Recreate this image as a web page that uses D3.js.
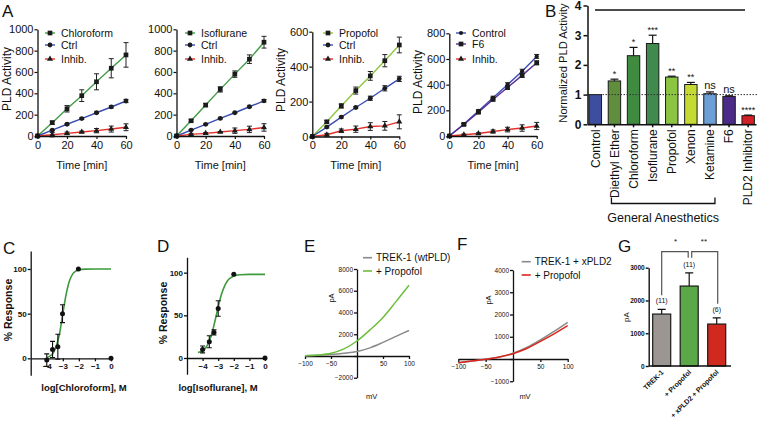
<!DOCTYPE html>
<html><head><meta charset="utf-8">
<script src="https://cdn.jsdelivr.net/npm/d3@7"></script>
<style>body{margin:0;background:#fff}svg{display:block}</style>
</head><body><svg id="c" width="757" height="422"></svg>
<script>
// ---------------- DATA ----------------
const timeMin = [0,10,20,30,40,50,60];
// A1 chloroform
const chloroform = [0,125,255,378,508,635,760];
const chloroformErr = [0,15,30,55,75,90,115];
const ctrlA1 = [0,55,110,163,218,272,328];
const ctrlA1Err = [0,5,8,8,8,10,15];
const inhibA1 = [0,12,25,38,50,65,82];
const inhibA1Err = [0,20,12,8,20,28,32];
// A2 isoflurane
const isoflurane = [0,143,290,437,580,720,879];
const isofluraneErr = [0,10,15,25,30,40,55];
const ctrlA2 = [0,56,109,165,218,274,330];
const ctrlA2Err = [0,5,5,5,5,8,12];
const inhibA2 = [0,15,25,37,50,62,80];
const inhibA2Err = [0,10,8,5,25,30,35];
// A3 propofol
const propofol = [0,84,175,263,347,434,524];
const propofolErr = [0,8,12,20,25,35,45];
const ctrlA3 = [0,54,111,166,219,276,330];
const ctrlA3Err = [0,5,5,5,12,15,15];
const inhibA3 = [0,10,33,42,57,61,84];
const inhibA3Err = [0,8,10,18,22,25,40];
// A4 F6
const controlA4 = [0,93,195,298,400,505,620];
const controlA4Err = [0,8,10,12,15,15,15];
const f6 = [0,90,185,285,378,472,570];
const f6Err = [0,8,10,12,15,15,15];
const inhibA4 = [0,10,20,35,50,62,78];
const inhibA4Err = [0,5,5,12,18,25,28];

// B
const bCats = ["Control","Diethyl Ether","Chloroform","Isoflurane","Propofol","Xenon","Ketamine","F6","PLD2 Inhibitor"];
const bVals = [1.0,1.46,2.31,2.72,1.59,1.34,1.03,0.94,0.29];
const bErr = [0,0.06,0.28,0.28,0.03,0.07,0.06,0.02,0.02];
const bSig = ["","*","*","***","**","**","ns","ns","****"];
const bColors = ["#3d4e9e","#5f8f3c","#3f8b3f","#3f8a4c","#8cc542","#c6da36","#6c9fd6","#4b2a88","#d41f26"];
const bTicks = [0,1,2,3,4];

// C
const cX = [-4.0,-3.64,-3.31,-3.02,-2.03,0];
const cY = [-2,10,13,50,100,0];
const cErr = [7,9,14,10,0,0];
const cFitX = [-4.0,-3.8,-3.6,-3.4,-3.2,-3.0,-2.8,-2.6,-2.4,-2.2,-2.0,-1.6,-1.0,0];
const cFitY = [1,2.5,6,14,28,50,71,86,94,97.5,99,99.8,100,100];
// D
const dX = [-4.0,-3.57,-3.27,-3.0,-2.0,0];
const dY = [10,19,30,58,98,0];
const dErr = [4,7,3,9,0,0];
const dFitX = [-4.3,-4.0,-3.8,-3.6,-3.4,-3.2,-3.0,-2.8,-2.6,-2.4,-2.2,-2.0,-1.6,-1.0,0];
const dFitY = [6.5,8.3,12,18.5,29,44,60,74,84,90.5,94,96.2,97.5,98,98];
const doseTicks = [-4,-3,-2,-1,0];
const respTicks = [0,50,100];

// E
const mV = [-100,-75,-50,-25,0,25,50,75,100];
const eTrek = [30,60,130,250,420,750,1250,1800,2350];
const ePropofol = [30,90,250,650,1380,2400,3550,5000,6500];
const eYTicks = [-2000,2000,4000,6000,8000];
// F
const fTrek = [-170,-90,-10,90,255,520,860,1240,1650];
const fPropofol = [-170,-92,-14,85,240,470,790,1130,1500];
const fYTicks = [-1000,1000,2000,3000,4000];
const mVTicks = [-100,-50,50,100];

// G
const gCats = ["TREK-1","+ Propofol","+ xPLD2 + Propofol"];
const gVals = [1585,2440,1280];
const gErr = [145,405,190];
const gN = ["(11)","(11)","(6)"];
const gColors = ["#9b9691","#5aa847","#cf2a1d"];
const gTicks = [0,1000,2000,3000];

// ---------------- DRAW ----------------
const FONT = '"Liberation Sans", Arial, Helvetica, sans-serif';
const svg = d3.select("#c");
const fmtD = d3.format("d");

function txt(x,y,s,o={}){
  const t = svg.append("text").attr("x",x).attr("y",y).text(s)
    .attr("font-family",FONT).attr("font-size",o.fs||11).attr("fill",o.fill||"#111")
    .attr("text-anchor",o.anchor||"start").attr("font-weight",o.bold?"bold":"normal");
  if(o.rot) t.attr("transform",`rotate(${o.rot},${x},${y})`);
  return t;
}
function styleAxis(g,fs,bold,sw){
  g.selectAll("path.domain").attr("stroke","#111").attr("stroke-width",sw||1.3);
  g.selectAll(".tick line").attr("stroke","#111").attr("stroke-width",sw||1.2);
  g.selectAll(".tick text").attr("font-family",FONT).attr("font-size",fs).attr("fill","#111")
    .attr("font-weight",bold?"bold":"normal");
}
const symMap = {square:[d3.symbolSquare,22],circle:[d3.symbolCircle,18],triangle:[d3.symbolTriangle,16],diamond:[d3.symbolCircle,14]};

function timePanel(p){
  const x = d3.scaleLinear().domain([0,60]).range(p.xr);
  const y = d3.scaleLinear().domain([0,p.ymax]).range(p.yr);
  const g = svg.append("g");
  const ser = p.series.map(s=>({...s,pts:timeMin.map((t,i)=>({t,v:s.v[i],e:s.e[i]}))}));
  ser.forEach(s=>{
    g.append("path").datum(s.pts).attr("fill","none").attr("stroke",s.color).attr("stroke-width",1.4)
      .attr("d",d3.line().x(d=>x(d.t)).y(d=>y(d.v)));
  });
  ser.forEach(s=>{
    const eb = g.append("g").attr("stroke","#222").attr("stroke-width",1);
    s.pts.filter(d=>d.e>0).forEach(d=>{
      const cx=x(d.t), yt=y(d.v+d.e), yb=y(d.v-d.e);
      eb.append("line").attr("x1",cx).attr("x2",cx).attr("y1",yt).attr("y2",yb);
      eb.append("line").attr("x1",cx-2.5).attr("x2",cx+2.5).attr("y1",yt).attr("y2",yt);
      eb.append("line").attr("x1",cx-2.5).attr("x2",cx+2.5).attr("y1",yb).attr("y2",yb);
    });
    const sm = symMap[s.sym];
    g.append("g").selectAll("path").data(s.pts).join("path")
      .attr("transform",d=>`translate(${x(d.t)},${y(d.v)})`)
      .attr("d",d3.symbol(sm[0],sm[1])).attr("fill",s.mfill||"#1b1b1b");
  });
  const ya = g.append("g").attr("transform",`translate(${p.xr[0]},0)`)
    .call(d3.axisLeft(y).tickValues(p.yticks).tickSize(3).tickSizeOuter(0).tickPadding(1).tickFormat(fmtD));
  styleAxis(ya,11);
  const xa = g.append("g").attr("transform",`translate(0,${p.yr[0]})`)
    .call(d3.axisBottom(x).tickValues([0,20,40,60]).tickSize(3).tickSizeOuter(0).tickPadding(2).tickFormat(fmtD));
  styleAxis(xa,11);
  txt((p.xr[0]+p.xr[1])/2,169,"Time [min]",{fs:11,anchor:"middle"});
  if(p.ylab) txt(p.ylab[0],p.ylab[1],"PLD Activity",{fs:12,anchor:"middle",rot:-90});
  ser.forEach((s,i)=>{
    const ly = p.leg[1]+p.legDy[i];
    g.append("line").attr("x1",p.leg[0]).attr("x2",p.leg[0]+10).attr("y1",ly).attr("y2",ly)
      .attr("stroke",s.color).attr("stroke-width",1.4);
    const sm = symMap[s.sym];
    g.append("path").attr("transform",`translate(${p.leg[0]+5},${ly})`).attr("d",d3.symbol(sm[0],sm[1]))
      .attr("fill",s.mfill||"#1b1b1b");
    txt(p.leg[0]+16,ly+4,s.name,{fs:10.5});
  });
}

const GREEN="#3f9c45", LGREEN="#8dc63f", BLUE="#3b4db3", RED="#e3302a", PURPLE="#5a2d90";
timePanel({xr:[37.5,126],yr:[136,29.3],ymax:1000,yticks:[0,200,400,600,800,1000],ylab:[10.5,79],
  leg:[45,33],legDy:[0,12,26],
  series:[{name:"Chloroform",v:chloroform,e:chloroformErr,color:GREEN,sym:"square"},
          {name:"Ctrl",v:ctrlA1,e:ctrlA1Err,color:BLUE,sym:"circle"},
          {name:"Inhib.",v:inhibA1,e:inhibA1Err,color:RED,sym:"triangle"}]});
timePanel({xr:[176.5,264],yr:[136,29.3],ymax:1000,yticks:[0,200,400,600,800,1000],
  leg:[185,33],legDy:[0,12,26],
  series:[{name:"Isoflurane",v:isoflurane,e:isofluraneErr,color:GREEN,sym:"square"},
          {name:"Ctrl",v:ctrlA2,e:ctrlA2Err,color:BLUE,sym:"circle"},
          {name:"Inhib.",v:inhibA2,e:inhibA2Err,color:RED,sym:"triangle"}]});
timePanel({xr:[312.3,399.3],yr:[136.5,31.7],ymax:600,yticks:[0,200,400,600],ylab:[285,80],
  leg:[323,33],legDy:[0,12,26],
  series:[{name:"Propofol",v:propofol,e:propofolErr,color:LGREEN,sym:"square"},
          {name:"Ctrl",v:ctrlA3,e:ctrlA3Err,color:BLUE,sym:"circle"},
          {name:"Inhib.",v:inhibA3,e:inhibA3Err,color:RED,sym:"triangle"}]});
timePanel({xr:[449.3,536.7],yr:[136,33.3],ymax:800,yticks:[0,200,400,600,800],ylab:[422,82],
  leg:[456,33],legDy:[0,11,26],
  series:[{name:"Control",v:controlA4,e:controlA4Err,color:BLUE,sym:"diamond"},
          {name:"F6",v:f6,e:f6Err,color:PURPLE,sym:"square"},
          {name:"Inhib.",v:inhibA4,e:inhibA4Err,color:RED,sym:"triangle"}]});

// ---- B ----
(function(){
  const x = d3.scaleBand().domain(bCats).range([587.5,756]).paddingInner(0.35).paddingOuter(0.085);
  const y = d3.scaleLinear().domain([0,4]).range([124.3,5.5]);
  const g = svg.append("g");
  g.append("line").attr("x1",595).attr("x2",745).attr("y1",10).attr("y2",10).attr("stroke","#111").attr("stroke-width",1.4);
  g.selectAll("rect").data(bCats).join("rect")
    .attr("x",d=>x(d)).attr("width",x.bandwidth())
    .attr("y",(d,i)=>y(bVals[i])).attr("height",(d,i)=>y(0)-y(bVals[i]))
    .attr("fill",(d,i)=>bColors[i]).attr("stroke","#1a1a1a").attr("stroke-width",1);
  bCats.forEach((c,i)=>{
    if(!bErr[i]) return;
    const cx = x(c)+x.bandwidth()/2, yt=y(bVals[i]+bErr[i]);
    g.append("line").attr("x1",cx).attr("x2",cx).attr("y1",y(bVals[i])).attr("y2",yt).attr("stroke","#111").attr("stroke-width",1.2);
    g.append("line").attr("x1",cx-4).attr("x2",cx+4).attr("y1",yt).attr("y2",yt).attr("stroke","#111").attr("stroke-width",1.2);
  });
  g.append("line").attr("x1",587.5).attr("x2",757).attr("y1",y(1)).attr("y2",y(1))
    .attr("stroke","#333").attr("stroke-width",1).attr("stroke-dasharray","1.5,1.5");
  bCats.forEach((c,i)=>{
    const cx = x(c)+x.bandwidth()/2, yt=y(bVals[i]+bErr[i]);
    if(bSig[i]==="ns") txt(cx,yt-3,"ns",{fs:11,anchor:"middle"});
    else if(bSig[i]) txt(cx,yt-2,bSig[i],{fs:9,anchor:"middle"});
  });
  const ya = g.append("g").attr("transform",`translate(587.5,0)`)
    .call(d3.axisLeft(y).tickValues(bTicks).tickSize(4).tickSizeOuter(0).tickPadding(2).tickFormat(fmtD));
  styleAxis(ya,12,true,1.5);
  const xa = g.append("g").attr("transform",`translate(0,${y(0)})`)
    .call(d3.axisBottom(x).tickSize(3).tickSizeOuter(0));
  styleAxis(xa,12,false,1.5);
  xa.selectAll(".tick text").attr("transform","rotate(-90)").attr("text-anchor","end")
    .attr("x",-5).attr("y",0).attr("dy","0.35em");
  txt(567,63,"Normalized PLD Activity",{fs:11.2,anchor:"middle",rot:-90});
  const bx0 = x("Diethyl Ether")+x.bandwidth()/2-3, bx1 = x("Ketamine")+x.bandwidth()/2+5;
  g.append("path").attr("d",`M${bx0},197.5V203.5H${bx1}V197.5`).attr("fill","none").attr("stroke","#111").attr("stroke-width",1.3);
  txt((bx0+bx1)/2,222,"General Anesthetics",{fs:12.5,anchor:"middle"});
})();

// ---- C & D ----
function dosePanel(p){
  const x = d3.scaleLinear().domain([-5,0]).range(p.xr);
  const y = d3.scaleLinear().domain(p.yd).range(p.yr);
  const g = svg.append("g");
  const ya = g.append("g").attr("transform",`translate(${p.xr[0]},0)`)
    .call(d3.axisLeft(y).tickValues(respTicks).tickSize(3).tickSizeOuter(0).tickPadding(1).tickFormat(fmtD));
  styleAxis(ya,8,true,1.3);
  const xa = g.append("g").attr("transform",`translate(0,${y(0)})`)
    .call(d3.axisBottom(x).tickValues(doseTicks).tickSize(3).tickSizeOuter(0).tickPadding(2).tickFormat(fmtD));
  styleAxis(xa,8,true,1.3);
  g.append("path").datum(p.fx.map((v,i)=>[v,p.fy[i]])).attr("fill","none").attr("stroke","#3d9a3d").attr("stroke-width",1.6)
    .attr("d",d3.line().x(d=>x(d[0])).y(d=>y(d[1])).curve(d3.curveMonotoneX));
  p.px.forEach((v,i)=>{
    const cx=x(v), cy=y(p.py[i]);
    if(p.pe[i]){
      const yt=y(p.py[i]+p.pe[i]), yb=y(p.py[i]-p.pe[i]);
      g.append("path").attr("d",`M${cx},${yt}V${yb}M${cx-2.5},${yt}H${cx+2.5}M${cx-2.5},${yb}H${cx+2.5}`)
        .attr("stroke","#111").attr("stroke-width",1.1);
    }
    g.append("circle").attr("cx",cx).attr("cy",cy).attr("r",2.5).attr("fill","#111");
  });
  txt(p.xlab[0],391,p.xlabel,{fs:9.5,bold:true,anchor:"middle"});
  txt(p.ylab[0],p.ylab[1],"% Response",{fs:10.5,bold:true,anchor:"middle",rot:-90});
}
dosePanel({xr:[30.7,111],yd:[-19,120],yr:[375.3,251.1],px:cX,py:cY,pe:cErr,fx:cFitX,fy:cFitY,
  xlabel:"log[Chloroform], M",xlab:[84],ylab:[12,310]});
dosePanel({xr:[187,265],yd:[-19,118],yr:[374.2,257.3],px:dX,py:dY,pe:dErr,fx:dFitX,fy:dFitY,
  xlabel:"log[Isoflurane], M",xlab:[218],ylab:[167,313]});

// ---- E & F ----
function ivPanel(p){
  const x = d3.scaleLinear().domain([-100,100]).range(p.xr);
  const y = d3.scaleLinear().domain(p.yd).range(p.yr);
  const g = svg.append("g");
  const ya = g.append("g").attr("transform",`translate(${x(0)},0)`)
    .call(d3.axisLeft(y).tickValues([0,...p.yticks]).tickSize(3).tickSizeOuter(0).tickPadding(1).tickFormat(d=>d===0?"":fmtD(d)));
  styleAxis(ya,6.5,false,1.3);
  const xa = g.append("g").attr("transform",`translate(0,${y(0)})`)
    .call(d3.axisBottom(x).tickValues(mVTicks).tickSize(3).tickSizeOuter(0).tickPadding(2).tickFormat(fmtD));
  styleAxis(xa,6.5,false,1.3);
  p.curves.forEach(c=>{
    g.append("path").datum(mV.map((v,i)=>[v,c.v[i]])).attr("fill","none").attr("stroke",c.color).attr("stroke-width",1.5)
      .attr("d",d3.line().x(d=>x(d[0])).y(d=>y(d[1])).curve(d3.curveMonotoneX));
  });
  p.curves.forEach((c,i)=>{
    const ly = p.leg[1]+i*13.3;
    g.append("line").attr("x1",p.leg[0]).attr("x2",p.leg[0]+9).attr("y1",ly).attr("y2",ly).attr("stroke",c.color).attr("stroke-width",1.6);
    txt(p.leg[0]+13,ly+3.5,c.name,{fs:10});
  });
  txt(p.pa[0],p.pa[1],"pA",{fs:7.5,anchor:"middle",rot:-90});
  txt(p.mv[0],p.mv[1],"mV",{fs:7.5,anchor:"middle"});
}
ivPanel({xr:[305,409],yd:[-2000,8000],yr:[377.75,269],yticks:eYTicks,
  curves:[{name:"TREK-1 (wtPLD)",v:eTrek,color:"#8a8a8a"},{name:"+ Propofol",v:ePropofol,color:"#6cbf3c"}],
  leg:[363,257.7],pa:[334,298],mv:[371.7,399]});
ivPanel({xr:[458.3,567.7],yd:[-1000,4000],yr:[381.25,270],yticks:fYTicks,
  curves:[{name:"TREK-1 + xPLD2",v:fTrek,color:"#8a8a8a"},{name:"+ Propofol",v:fPropofol,color:"#d9261c"}],
  leg:[521.7,261.7],pa:[491,300],mv:[525,399]});

// ---- G ----
(function(){
  const x = d3.scaleBand().domain(gCats).range([648.7,729.7]).paddingInner(0.345).paddingOuter(0.145);
  const y = d3.scaleLinear().domain([0,3000]).range([366,267.7]);
  const g = svg.append("g");
  g.selectAll("rect").data(gCats).join("rect")
    .attr("x",d=>x(d)).attr("width",x.bandwidth())
    .attr("y",(d,i)=>y(gVals[i])).attr("height",(d,i)=>y(0)-y(gVals[i]))
    .attr("fill",(d,i)=>gColors[i]).attr("stroke","#1a1a1a").attr("stroke-width",1.2);
  const cxs = gCats.map(c=>x(c)+x.bandwidth()/2);
  gCats.forEach((c,i)=>{
    const cx=cxs[i], yt=y(gVals[i]+gErr[i]);
    g.append("path").attr("d",`M${cx},${y(gVals[i])}V${yt}M${cx-4},${yt}H${cx+4}`).attr("stroke","#111").attr("stroke-width",1.2);
    txt(cx,yt-6,gN[i],{fs:7,anchor:"middle"});
  });
  const ya = g.append("g").attr("transform",`translate(648.7,0)`)
    .call(d3.axisLeft(y).tickValues(gTicks).tickSize(3).tickSizeOuter(0).tickPadding(1).tickFormat(fmtD));
  styleAxis(ya,6.5,true,1.4);
  const xa = g.append("g").attr("transform",`translate(0,366)`)
    .call(d3.axisBottom(x).tickSize(0).tickSizeOuter(0));
  styleAxis(xa,7,true,1.4);
  xa.select("path.domain").attr("d","M648.7,0H731");
  xa.selectAll(".tick text").attr("transform","rotate(-45)").attr("text-anchor","end")
    .attr("x",-3).attr("y",4).attr("dy","0.35em");
  const top = 251.7;
  const nTop = gCats.map((c,i)=>y(gVals[i]+gErr[i])-14);
  g.append("path").attr("d",`M${cxs[0]},${nTop[0]}V${top}H${cxs[1]-1}V${top+6}`).attr("fill","none").attr("stroke","#555").attr("stroke-width",1.2);
  g.append("path").attr("d",`M${cxs[1]+2.5},${top+6}V${top}H${cxs[2]+1}V${nTop[2]}`).attr("fill","none").attr("stroke","#555").attr("stroke-width",1.2);
  txt((cxs[0]+cxs[1])/2,244,"*",{fs:8,anchor:"middle"});
  txt((cxs[1]+cxs[2])/2+1,244,"**",{fs:8,anchor:"middle"});
  txt(629,317,"pA",{fs:8,anchor:"middle",rot:-90});
})();

// panel letters
[["A",2,17],["B",545,17],["C",3,254],["D",157,252],["E",304,252],["F",457,250],["G",618,252]]
  .forEach(l=>txt(l[1],l[2],l[0],{fs:17}));
</script></body></html>
